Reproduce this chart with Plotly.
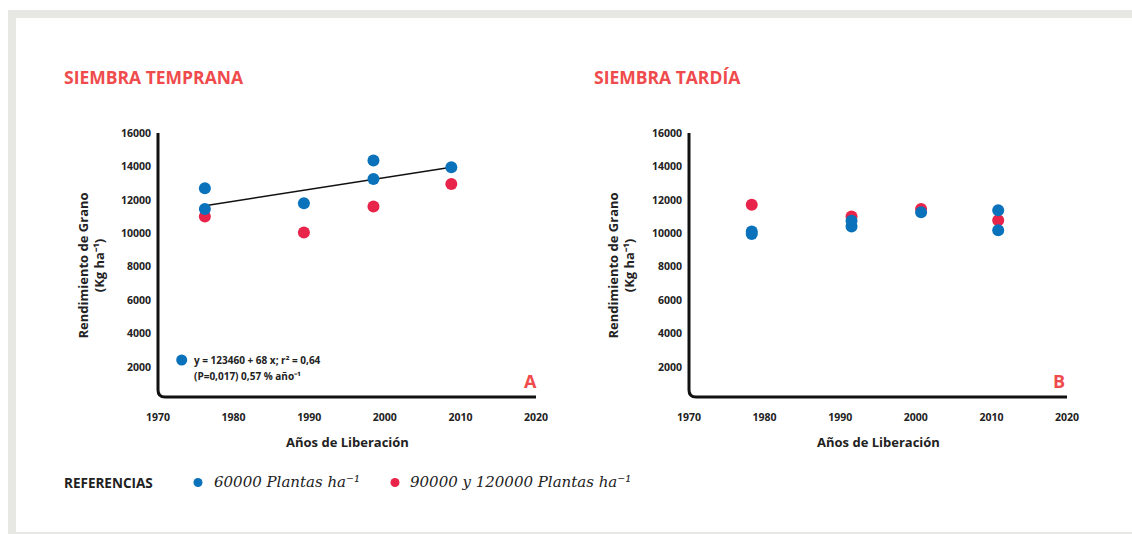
import plotly.graph_objects as go

W, H = 1132, 534

# ---- data ----
years_ticks = [1970, 1980, 1990, 2000, 2010, 2020]
yield_ticks = [2000, 4000, 6000, 8000, 10000, 12000, 14000, 16000]

a_blue_x = [1976.2, 1976.2, 1989.3, 1998.5, 1998.5, 2008.8]
a_blue_y = [12700, 11450, 11800, 14350, 13250, 13950]
a_red_x = [1976.2, 1989.3, 1998.5, 2008.8]
a_red_y = [11000, 10050, 11600, 12950]
a_trend_x = [1976.2, 2008.8]
a_trend_y = [11650, 13950]

b_blue_x = [1978.3, 1978.3, 1991.5, 1991.5, 2000.7, 2010.9, 2010.9]
b_blue_y = [10100, 9950, 10750, 10400, 11250, 11380, 10180]
b_red_x = [1978.3, 1991.5, 2000.7, 2010.9]
b_red_y = [11700, 11000, 11450, 10780]

BLUE = "#0a72bb"
RED = "#e8244a"
TITLE_RED = "#ef4b4c"
DARK = "#222222"
FONT = "Open Sans"

def px(x):
    return x / W

def py(y):
    return 1 - y / H

fig = go.Figure()

marker_size = 12
fig.add_trace(go.Scatter(x=a_trend_x, y=a_trend_y, mode="lines",
                         line=dict(color="#111111", width=1.5), xaxis="x", yaxis="y"))
fig.add_trace(go.Scatter(x=a_red_x, y=a_red_y, mode="markers",
                         marker=dict(color=RED, size=marker_size), xaxis="x", yaxis="y"))
fig.add_trace(go.Scatter(x=a_blue_x, y=a_blue_y, mode="markers",
                         marker=dict(color=BLUE, size=marker_size), xaxis="x", yaxis="y"))
fig.add_trace(go.Scatter(x=b_red_x, y=b_red_y, mode="markers",
                         marker=dict(color=RED, size=marker_size), xaxis="x2", yaxis="y2"))
fig.add_trace(go.Scatter(x=b_blue_x, y=b_blue_y, mode="markers",
                         marker=dict(color=BLUE, size=marker_size), xaxis="x2", yaxis="y2"))

ax_top, ax_bot = 133, 397
a_left, a_right = 158, 536
b_left, b_right = 689, 1067

tickfont = dict(family=FONT, size=10.5, color=DARK, weight="bold")

def xaxis(domain, anchor):
    return dict(domain=domain, anchor=anchor, range=[1970, 2020], tickvals=years_ticks,
                ticktext=[str(v) for v in years_ticks],
                showgrid=False, zeroline=False, showline=False, ticks="", automargin=False,
                tickfont=tickfont, ticklabelstandoff=12, fixedrange=True)

def yaxis(anchor):
    return dict(domain=[py(ax_bot), py(ax_top)], anchor=anchor, range=[200, 16000],
                tickvals=yield_ticks, ticktext=[str(v) for v in yield_ticks],
                showgrid=False, zeroline=False, showline=False, automargin=False,
                ticks="", tickfont=tickfont, ticklabelstandoff=6, fixedrange=True)

shapes = []
# outer frame
shapes.append(dict(type="rect", xref="paper", yref="paper", x0=px(8), x1=px(1150), y0=py(540), y1=py(10),
                   fillcolor="#e7e7e3", line=dict(width=0), layer="below"))
shapes.append(dict(type="rect", xref="paper", yref="paper", x0=px(16), x1=px(1150), y0=py(532), y1=py(18),
                   fillcolor="#ffffff", line=dict(width=0), layer="below"))

# axis lines with rounded corner
r = 7
for left, right in [(a_left, a_right), (b_left, b_right)]:
    path = (f"M {px(left)},{py(ax_top)} L {px(left)},{py(ax_bot - r)} "
            f"Q {px(left)},{py(ax_bot)} {px(left + r)},{py(ax_bot)} L {px(right)},{py(ax_bot)}")
    shapes.append(dict(type="path", xref="paper", yref="paper", path=path,
                       line=dict(color="#111111", width=3)))

def dot(cx, cy, d, color):
    return dict(type="circle", xref="paper", yref="paper", xsizemode="pixel", ysizemode="pixel",
                xanchor=px(cx), yanchor=py(cy), x0=-d / 2, x1=d / 2, y0=-d / 2, y1=d / 2,
                fillcolor=color, line=dict(width=0))

shapes.append(dot(181.7, 360, 11, BLUE))
shapes.append(dot(198, 482.5, 9, BLUE))
shapes.append(dot(395, 482.5, 9, RED))

ann = []

def text(x, y, t, size, color=DARK, xanchor="left", weight="bold", family=FONT, angle=0, style="normal"):
    ann.append(dict(x=px(x), y=py(y), xref="paper", yref="paper", text=t, showarrow=False,
                    xanchor=xanchor, yanchor="middle", textangle=angle,
                    font=dict(family=family, size=size, color=color, weight=weight, style=style)))

text(62, 77, "SIEMBRA TEMPRANA", 17.5, TITLE_RED)
text(592, 77, "SIEMBRA TARDÍA", 17.5, TITLE_RED)

for cx in [91, 621]:
    ann.append(dict(x=px(cx), y=py(265.5), xref="paper", yref="paper",
                    text="Rendimiento de Grano<br>(Kg ha⁻¹)", showarrow=False,
                    xanchor="center", yanchor="middle", textangle=-90, align="center",
                    font=dict(family=FONT, size=13, color=DARK, weight="bold")))

text(347, 442, "Años de Liberación", 13, xanchor="center")
text(878, 442, "Años de Liberación", 13, xanchor="center")

text(192, 360, "y = 123460 + 68 x; r² = 0,64", 10)
text(192, 376, "(P=0,017) 0,57 % año⁻¹", 10)
text(530, 381, "A", 18, TITLE_RED, xanchor="center")
text(1059, 381, "B", 18, TITLE_RED, xanchor="center")

text(62, 483, "REFERENCIAS", 13.5)
text(212, 482, "60000 Plantas ha⁻¹", 15, color="#222222", weight="normal",
     family="DejaVu Serif", style="italic")
text(408, 482, "90000 y 120000 Plantas ha⁻¹", 15, color="#222222", weight="normal",
     family="DejaVu Serif", style="italic")

fig.update_layout(
    width=W, height=H, margin=dict(l=0, r=0, t=0, b=0, autoexpand=False),
    paper_bgcolor="#ffffff", plot_bgcolor="rgba(0,0,0,0)", showlegend=False,
    xaxis=xaxis([px(a_left), px(a_right)], "y"),
    yaxis=yaxis("x"),
    xaxis2=xaxis([px(b_left), px(b_right)], "y2"),
    yaxis2=yaxis("x2"),
    shapes=shapes, annotations=ann,
)

fig.write_html("out.html", config={"displayModeBar": False})
